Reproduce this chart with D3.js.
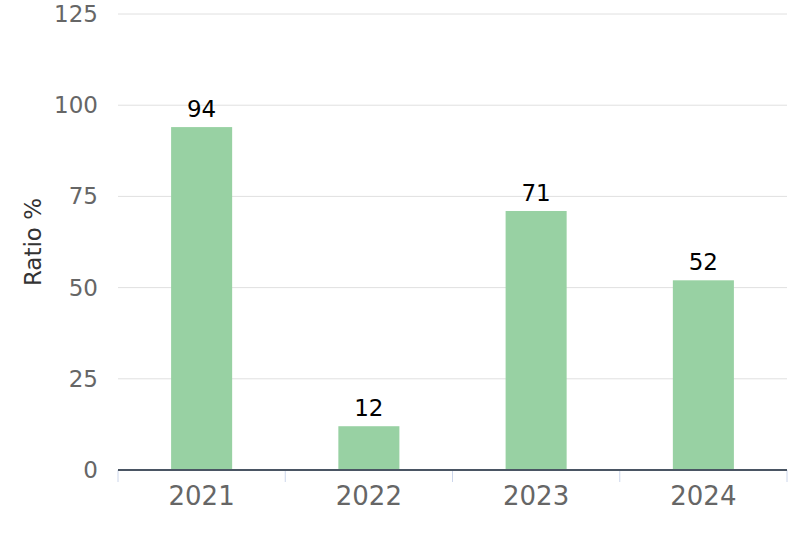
<!DOCTYPE html>
<html><head><meta charset="utf-8">
<script src="https://cdn.jsdelivr.net/npm/d3@7"></script>
<style>body{margin:0;background:#fff;} svg{display:block;font-family:"DejaVu Sans",sans-serif;}</style>
</head><body>
<svg id="c" width="800" height="533"></svg>
<script>
const categories = ["2021","2022","2023","2024"];
const values = [94, 12, 71, 52];
const yTicks = [0, 25, 50, 75, 100, 125];
const yLabel = "Ratio %";

(function () {
const svg = d3.select("#c");
const mL = 118, mR = 787, mT = 14, mB = 470;
const x = d3.scaleBand().domain(categories).range([mL, mR]).paddingInner(0).paddingOuter(0);
const y = d3.scaleLinear().domain([0, 125]).range([mB, mT]);

// gridlines
svg.append("g").selectAll("line").data(yTicks.filter(d => d > 0)).join("line")
  .attr("x1", mL).attr("x2", mR)
  .attr("y1", d => y(d)).attr("y2", d => y(d))
  .attr("stroke", "#e0e0e0").attr("stroke-width", 1);

// y labels
svg.append("g").selectAll("text").data(yTicks).join("text")
  .attr("x", 98).attr("y", d => y(d)).attr("dy", "0.35em")
  .attr("text-anchor", "end").attr("font-size", 23).attr("fill", "#666")
  .text(d => d);

// bars
const bw = x.bandwidth() * 0.365;
svg.append("g").selectAll("rect").data(values).join("rect")
  .attr("x", (d, i) => x(categories[i]) + x.bandwidth() / 2 - bw / 2)
  .attr("width", bw)
  .attr("y", d => y(d)).attr("height", d => y(0) - y(d))
  .attr("fill", "#98d1a3");

// value labels
svg.append("g").selectAll("text").data(values).join("text")
  .attr("x", (d, i) => x(categories[i]) + x.bandwidth() / 2)
  .attr("y", d => y(d) - 10)
  .attr("text-anchor", "middle").attr("font-size", 23).attr("fill", "#000")
  .text(d => d);

// x axis ticks
const tickPos = categories.map(c => x(c)).concat([mR]);
svg.append("g").selectAll("line").data(tickPos).join("line")
  .attr("x1", d => d).attr("x2", d => d)
  .attr("y1", mB).attr("y2", mB + 12)
  .attr("stroke", "#ccd6eb").attr("stroke-width", 1);

// axis line
svg.append("line").attr("x1", mL).attr("x2", mR)
  .attr("y1", mB).attr("y2", mB)
  .attr("stroke", "#4a5563").attr("stroke-width", 2);

// x labels
svg.append("g").selectAll("text").data(categories).join("text")
  .attr("x", d => x(d) + x.bandwidth() / 2).attr("y", 505)
  .attr("text-anchor", "middle").attr("font-size", 26).attr("fill", "#666")
  .text(d => d);

// y axis title
svg.append("text")
  .attr("transform", `translate(41, 242) rotate(-90)`)
  .attr("text-anchor", "middle").attr("font-size", 23).attr("fill", "#333")
  .text(yLabel);
})();
</script>
</body></html>
